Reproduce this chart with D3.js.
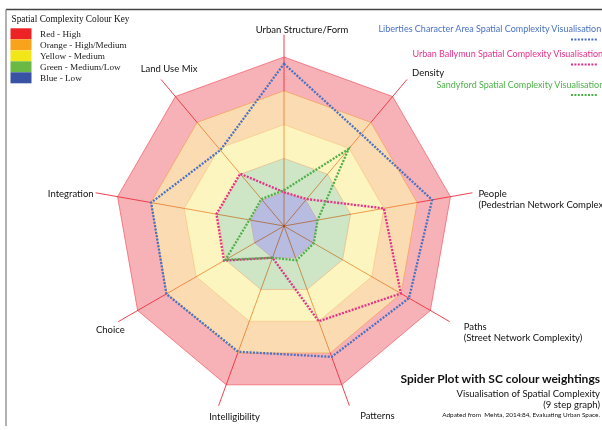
<!DOCTYPE html>
<html>
<head>
<meta charset="utf-8">
<script src="https://cdn.jsdelivr.net/npm/d3@7"></script>
<style>
  body { margin: 0; background: #fff; }
  svg { display: block; font-family: Lato, "Open Sans", sans-serif; }
</style>
</head>
<body>
<div id="chart"></div>
<script>
// axes, clockwise from the top
const axes = ["Urban Structure/Form", "Density", "People", "Paths", "Patterns",
  "Intelligibility", "Choice", "Integration", "Land Use Mix"];

// series values (0 - 5 scale, one step per colour band)
const liberties = [4.8, 3.55, 4.45, 4.27, 4.12, 3.96, 4.02, 3.99, 2.93];
const ballymun = [1.0, 1.04, 3.0, 3.99, 3.0, 1.0, 2.05, 2.03, 2.02];
const sandyford = [1.06, 2.97, 1.01, 1.02, 1.08, 1.0, 2.0, 1.04, 1.04];

const seriesNames = ["Liberties Character Area Spatial Complexity Visualisation",
  "Urban Ballymun Spatial Complexity Visualisation",
  "Sandyford Spatial Complexity Visualisation"];

// colour key
const bandLevels = [5, 4, 3, 2, 1];
const keyLabels = ["Red - High", "Orange - High/Medium", "Yellow - Medium",
  "Green - Medium/Low", "Blue - Low"];

const width = 602, height = 430;
const cx = 284, cy = 226, R = 169;
const maxVal = 5, axisEnd = 5.66;

const keyColours = ["#ed2224", "#f9a21b", "#f2e619", "#6ab945", "#3a52a4"];
const bandFill = ["#f7b2b8", "#fbdcb2", "#fdf5bf", "#cee5c6", "#b8bce0"];
const bandEdge = ["#f26570", "#f5a260", "#f7c98a", "#e4bf8e", "#c9a8b8"];
const seriesColours = ["#4a72c0", "#e5318c", "#4fb04a"];

const svg = d3.select("#chart").append("svg")
  .attr("width", width).attr("height", height);

// frame (top and left edge of the page)
svg.append("line").attr("x1", 6).attr("x2", width).attr("y1", 9.5).attr("y2", 9.5)
  .attr("stroke", "#444").attr("stroke-width", 1.3);
svg.append("line").attr("x1", 6).attr("x2", 6).attr("y1", 9.5).attr("y2", 426)
  .attr("stroke", "#888").attr("stroke-width", 1.3);

const r = d3.scaleLinear().domain([0, maxVal]).range([0, R]);
const angle = d3.scaleLinear().domain([0, axes.length]).range([0, 2 * Math.PI]);

const g = svg.append("g").attr("transform", `translate(${cx},${cy})`);

const radial = d3.lineRadial()
  .angle((d, i) => angle(i))
  .radius(d => r(d))
  .curve(d3.curveLinearClosed);

// colour bands, largest first
g.selectAll("path.band")
  .data(bandLevels)
  .join("path")
  .attr("class", "band")
  .attr("d", lv => radial(axes.map(() => lv)))
  .attr("fill", (lv, i) => bandFill[i])
  .attr("stroke", (lv, i) => bandEdge[i])
  .attr("stroke-width", 0.8);

// axis spokes: orange inside, red across the outer band
const pt = (v, i) => [Math.sin(angle(i)) * r(v), -Math.cos(angle(i)) * r(v)];
axes.forEach((a, i) => {
  const p0 = pt(0, i), p1 = pt(4, i), p2 = pt(axisEnd, i);
  g.append("line").attr("x1", p0[0]).attr("y1", p0[1]).attr("x2", p1[0]).attr("y2", p1[1])
    .attr("stroke", "#ef8a3c").attr("stroke-width", 0.8).style("mix-blend-mode", "multiply");
  g.append("line").attr("x1", p1[0]).attr("y1", p1[1]).attr("x2", p2[0]).attr("y2", p2[1])
    .attr("stroke", "#ee2f3c").attr("stroke-width", 0.9);
});

// series lines
[liberties, ballymun, sandyford].forEach((vals, s) => {
  g.append("path")
    .attr("d", radial(vals))
    .attr("fill", "none")
    .attr("stroke", seriesColours[s])
    .attr("stroke-width", 2.3)
    .attr("stroke-dasharray", "2 1.4");
});

// axis labels, placed relative to the end of each spoke
const labelPos = [
  { dx: 18, dy: -2, anchor: "middle" },
  { dx: 5, dy: -3, anchor: "start" },
  { dx: 6, dy: 4, anchor: "start" },
  { dx: 14, dy: 8, anchor: "start" },
  { dx: 28, dy: 13, anchor: "middle" },
  { dx: 16, dy: 14, anchor: "middle" },
  { dx: -8, dy: 11, anchor: "middle" },
  { dx: -2, dy: 4, anchor: "end" },
  { dx: 8, dy: -7, anchor: "middle" }
];
const subLabels = ["", "", "(Pedestrian Network Complexity)", "(Street Network Complexity)",
  "", "", "", "", ""];

axes.forEach((a, i) => {
  const p = pt(axisEnd, i), lp = labelPos[i];
  const t = g.append("text")
    .attr("x", p[0] + lp.dx).attr("y", p[1] + lp.dy)
    .attr("text-anchor", lp.anchor)
    .attr("font-size", 9.5).attr("fill", "#111");
  t.append("tspan").text(a);
  if (subLabels[i]) {
    t.append("tspan").attr("x", p[0] + lp.dx).attr("dy", 11.6).text(subLabels[i]);
  }
});

// colour key
svg.append("text").attr("x", 11.5).attr("y", 21.5)
  .attr("font-family", "'Liberation Serif', serif").attr("font-size", 9.3)
  .attr("fill", "#111").text("Spatial Complexity Colour Key");
const key = svg.append("g").attr("transform", "translate(10.5,28.3)");
key.selectAll("rect").data(keyLabels).join("rect")
  .attr("x", 0).attr("y", (d, i) => i * 11)
  .attr("width", 21).attr("height", 11)
  .attr("fill", (d, i) => keyColours[i]);
key.selectAll("text").data(keyLabels).join("text")
  .attr("x", 29.5).attr("y", (d, i) => i * 11 + 8.5)
  .attr("font-family", "'Liberation Serif', serif").attr("font-size", 9.2)
  .attr("fill", "#222").text(d => d);

// series legend, top right
const legendX = [378.5, 412.5, 436.5];
const legendY = [32, 57, 87.5];
seriesNames.forEach((n, s) => {
  svg.append("text").attr("x", legendX[s]).attr("y", legendY[s])
    .attr("font-size", 9).attr("fill", seriesColours[s]).text(n);
  svg.append("line").attr("x1", 571).attr("x2", 597)
    .attr("y1", legendY[s] + 7.5).attr("y2", legendY[s] + 7.5)
    .attr("stroke", seriesColours[s]).attr("stroke-width", 2)
    .attr("stroke-dasharray", "2 1.4");
});

// title block, bottom right
const titles = [
  { text: "Spider Plot with SC colour weightings", y: 382.5, size: 12, weight: "bold" },
  { text: "Visualisation of Spatial Complexity", y: 397, size: 9.5, weight: "normal" },
  { text: "(9 step graph)", y: 408, size: 9.5, weight: "normal" },
  { text: "Adpated from  Mehta, 2014:84, Evaluating Urban Space.", y: 417, size: 6.4, weight: "normal" }
];
svg.selectAll("text.title").data(titles).join("text")
  .attr("class", "title")
  .attr("x", 600).attr("y", d => d.y)
  .attr("text-anchor", "end")
  .attr("font-size", d => d.size).attr("font-weight", d => d.weight)
  .attr("fill", "#111")
  .style("white-space", "pre")
  .text(d => d.text);
</script>
</body>
</html>
